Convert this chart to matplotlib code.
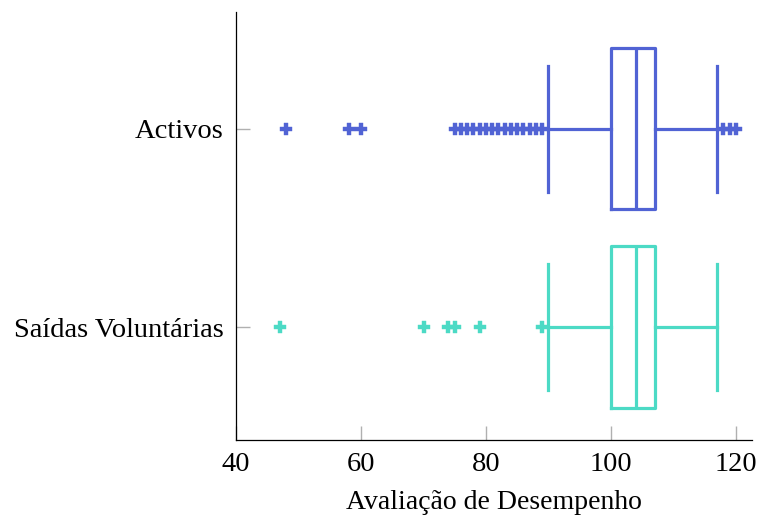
import numpy as np
import matplotlib.pyplot as plt

plt.rcParams['font.family'] = ['Liberation Serif', 'DejaVu Serif']

# grupos (de baixo para cima)
groups = ['Saídas Voluntárias', 'Activos']
colors = ['#4cdac5', '#5163d4']

# estatísticas das caixas
q1 = [100, 100]
med = [104, 104]
q3 = [107, 107]
whis_lo = [90, 90]
whis_hi = [117, 117]

# outliers
fliers_saidas = [47, 70, 74, 75, 79, 89]
fliers_activos = [48, 58, 60, 75, 76, 77, 78, 79, 80, 81, 82, 83, 84, 85, 86, 87, 88, 89,
                  118, 119, 120]
fliers = [fliers_saidas, fliers_activos]

xticks = [40, 60, 80, 100, 120]

fig = plt.figure(figsize=(7.59, 5.17), dpi=100)
ax = fig.add_axes([0.311, 0.149, 0.680, 0.828])

for i in range(len(groups)):
    st = [dict(med=med[i], q1=q1[i], q3=q3[i], whislo=whis_lo[i], whishi=whis_hi[i],
               fliers=fliers[i])]
    c = colors[i]
    ax.bxp(st, positions=[i + 1], vert=False, widths=0.813, capwidths=0.636,
           boxprops=dict(color=c, linewidth=2.3),
           whiskerprops=dict(color=c, linewidth=2.3),
           capprops=dict(color=c, linewidth=2.3),
           medianprops=dict(color=c, linewidth=2.3),
           flierprops=dict(marker='P', markersize=8, markerfacecolor=c,
                           markeredgecolor=c, markeredgewidth=0.3, linestyle='none'))

ax.set_xlim(40, 122.6)
ax.set_ylim(0.43, 2.59)
ax.set_yticks([1, 2])
ax.set_yticklabels(groups, fontsize=21)
ax.set_xticks(xticks)
ax.set_xlabel('Avaliação de Desempenho', fontsize=20, labelpad=9)

ax.spines['top'].set_visible(False)
ax.spines['right'].set_visible(False)
ax.spines['left'].set_linewidth(0.9)
ax.spines['bottom'].set_linewidth(0.9)
ax.tick_params(direction='in', length=10, width=1, color='#b0b0b0', labelsize=20.5, pad=9)

plt.savefig('out.png', dpi=100)
plt.close()
